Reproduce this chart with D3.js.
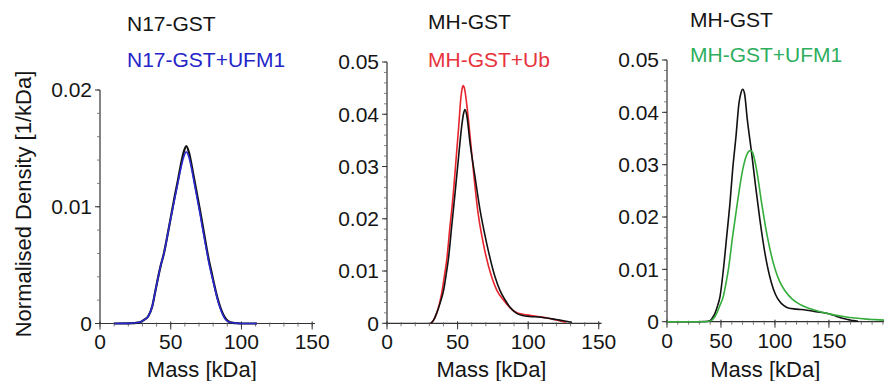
<!DOCTYPE html>
<html><head><meta charset="utf-8">
<script src="https://cdn.jsdelivr.net/npm/d3@7"></script>
<style>
html,body{margin:0;padding:0;background:#fff;}
svg text{font-family:"Liberation Sans",Arial,sans-serif;}
</style></head>
<body><svg id="c" width="884" height="381"></svg>
<script>
// ---------- data ----------
const n17Mass = [10,20,28,31,34,37,39,41,43,45,47,49,51,53,55,57,59,61,63,65,67,69,71,73,75,77,79,81,83,85,87,89,92,96,100,111];
const n17GST  = [0,0.00001,0.0001,0.0003,0.0006,0.0015,0.0027,0.0039,0.005,0.0059,0.0071,0.0084,0.0097,0.011,0.0122,0.0135,0.0146,0.0152,0.0146,0.0134,0.0121,0.0108,0.0095,0.0081,0.0067,0.0054,0.0043,0.0032,0.0022,0.0014,0.0008,0.0004,0.0001,0.00003,0,0];
const n17UFM1 = [0,0.00001,0.0001,0.0003,0.0006,0.0015,0.0027,0.0039,0.005,0.0059,0.0071,0.0084,0.0096,0.0108,0.012,0.0132,0.0142,0.0147,0.0142,0.0131,0.0118,0.0105,0.0092,0.0078,0.0065,0.0052,0.0041,0.0031,0.0021,0.0013,0.0007,0.0003,0.0001,0.00003,0,0];

const mhUbMassBlack = [31,33,35,38,40,42,43.5,45.8,48.2,50.5,52.9,54.2,55.2,56.5,58.8,62.3,65.9,70.6,76.5,80,83.6,87,91.8,96,101,107,113,118,122.5,127,131];
const mhGSTb        = [0,0.0006,0.0018,0.0042,0.0062,0.0095,0.0123,0.0185,0.0249,0.0313,0.0377,0.0401,0.0409,0.0398,0.0345,0.0281,0.0217,0.0153,0.0089,0.0063,0.0045,0.0031,0.0019,0.0015,0.0013,0.0012,0.001,0.0008,0.0006,0.0004,0.0002];
const mhUbMassRed   = [31,33,35,37,38.7,40.5,42.3,44.6,47,48.9,50.8,52.2,53.2,54,54.9,56.9,59.3,61.6,64.2,68.2,74.1,78,82.4,87,92,97,102,107,112,117,122,127];
const mhGSTUb       = [0,0.0006,0.0018,0.0036,0.0057,0.0088,0.0121,0.0185,0.0249,0.0313,0.0377,0.0428,0.0449,0.0455,0.0449,0.0409,0.0345,0.0281,0.0217,0.0153,0.0089,0.0062,0.0045,0.003,0.002,0.0017,0.0015,0.0013,0.0011,0.0008,0.0005,0.0002];

const mhUfmMassBlack = [0,20,36,39.8,42,44.4,46.8,49.1,52.2,55.3,58.3,60.8,63.9,66.7,68.5,70.1,71.8,74.4,78.4,82.1,86.1,90.7,96.9,100.5,104.6,108,112.3,120,129.4,138,147.9,156,163.3,168,172.5,177];
const mhGSTc         = [0,0,0.00005,0.0002,0.0007,0.0016,0.003,0.0048,0.0099,0.0163,0.0226,0.029,0.0354,0.0418,0.0437,0.0444,0.0436,0.0386,0.0322,0.0258,0.0194,0.0131,0.0073,0.0052,0.0038,0.0031,0.0026,0.0024,0.0022,0.0019,0.0016,0.0011,0.0006,0.0004,0.0002,0.0001];
const mhUfmMassGreen = [0,20,38,41,43.5,46,49,52.1,54.5,56.8,60.8,65.1,70.1,73,75.5,77.5,79.5,83,87.7,92.9,100,104.5,109.3,116,123.1,132,141.7,152,163.3,174,185,193,201];
const mhGSTUFM1      = [0,0,0.00005,0.0002,0.0007,0.0016,0.0031,0.0048,0.0072,0.0099,0.0163,0.0226,0.029,0.0314,0.0325,0.0327,0.0322,0.029,0.0226,0.0163,0.0101,0.0076,0.0059,0.0043,0.0033,0.0025,0.0019,0.0014,0.001,0.0007,0.0005,0.0004,0.0003];

const xTicksMajor = [0,50,100,150];
const yTicksP1 = [0,0.01,0.02];
const yTicksP23 = [0,0.01,0.02,0.03,0.04,0.05];
const yTickLabelsP1 = ["0","0.01","0.02"];
const yTickLabelsP23 = ["0","0.01","0.02","0.03","0.04","0.05"];

// ---------- drawing ----------
const svg = d3.select("#c");
const FS = 21;
const FS_T = 22;
const TXT = "#151515";

function panel(cfg){
  const x = d3.scaleLinear().domain(cfg.xDomain).range(cfg.xRange);
  const y = d3.scaleLinear().domain(cfg.yDomain).range(cfg.yRange);
  const g = svg.append("g");
  const axY = cfg.yRange[0];
  g.append("line").attr("x1", cfg.xRange[0]).attr("x2", cfg.xRange[1]).attr("y1", axY).attr("y2", axY)
    .attr("stroke", "#333").attr("stroke-width", 1.2);
  g.append("line").attr("x1", cfg.xRange[0]).attr("x2", cfg.xRange[0]).attr("y1", cfg.yRange[1]).attr("y2", axY)
    .attr("stroke", "#333").attr("stroke-width", 1.2);
  const xMinor = d3.range(0, cfg.xDomain[1] + 0.001, 10);
  g.selectAll(".xm").data(xMinor).join("line")
    .attr("x1", d => x(d)).attr("x2", d => x(d)).attr("y1", axY - 1).attr("y2", axY + 3)
    .attr("stroke", "#555").attr("stroke-width", 0.8);
  g.selectAll(".xM").data(xTicksMajor.filter(d => d <= cfg.xDomain[1])).join("line")
    .attr("x1", d => x(d)).attr("x2", d => x(d)).attr("y1", axY - 2).attr("y2", axY + 6)
    .attr("stroke", "#333").attr("stroke-width", 1);
  g.selectAll(".xl").data(xTicksMajor.filter(d => d <= cfg.xDomain[1])).join("text")
    .attr("x", d => x(d)).attr("y", cfg.xLabY).attr("text-anchor", "middle")
    .attr("font-size", FS).attr("fill", TXT).text(d => d);
  const yMinor = d3.range(0, cfg.yDomain[1] + 1e-9, 0.002);
  g.selectAll(".ym").data(yMinor).join("line")
    .attr("x1", cfg.xRange[0] - 3).attr("x2", cfg.xRange[0]).attr("y1", d => y(d)).attr("y2", d => y(d))
    .attr("stroke", "#666").attr("stroke-width", 0.8);
  g.selectAll(".yM").data(cfg.yTicks).join("line")
    .attr("x1", cfg.xRange[0] - 5).attr("x2", cfg.xRange[0]).attr("y1", d => y(d)).attr("y2", d => y(d))
    .attr("stroke", "#333").attr("stroke-width", 1);
  g.selectAll(".yl").data(cfg.yTicks).join("text")
    .attr("x", cfg.xRange[0] - 8).attr("y", d => y(d)).attr("dy", "0.35em").attr("text-anchor", "end")
    .attr("font-size", FS).attr("fill", TXT).text((d, i) => cfg.yLabels[i]);
  g.append("text").attr("x", x(cfg.xTitleAt)).attr("y", 377).attr("text-anchor", "middle")
    .attr("font-size", FS_T).attr("fill", TXT).text("Mass [kDa]");
  const line = d3.line().x(d => x(d[0])).y(d => y(d[1])).curve(d3.curveMonotoneX);
  cfg.series.forEach(s => {
    g.append("path").datum(d3.zip(s.x, s.y)).attr("d", line)
      .attr("fill", "none").attr("stroke", s.color).attr("stroke-width", s.w || 1.6)
      .attr("stroke-linejoin", "round");
  });
  cfg.titles.forEach(t => {
    g.append("text").attr("x", t.x).attr("y", t.y).attr("font-size", FS).attr("fill", t.color).text(t.text);
  });
}

panel({
  xDomain: [0, 152], xRange: [100, 315],
  yDomain: [0, 0.02], yRange: [323.5, 90],
  yTicks: yTicksP1, yLabels: yTickLabelsP1, xLabY: 349, xTitleAt: 72,
  series: [
    {x: n17Mass, y: n17GST, color: "#111", w: 2.2},
    {x: n17Mass, y: n17UFM1, color: "#2a2ad0", w: 1.6}
  ],
  titles: [
    {text: "N17-GST", x: 127, y: 30.5, color: TXT},
    {text: "N17-GST+UFM1", x: 127, y: 66.5, color: "#2424c8"}
  ]
});

panel({
  xDomain: [0, 152], xRange: [387, 601.6],
  yDomain: [0, 0.05], yRange: [323.3, 62],
  yTicks: yTicksP23, yLabels: yTickLabelsP23, xLabY: 349, xTitleAt: 74,
  series: [
    {x: mhUbMassRed, y: mhGSTUb, color: "#e8242c", w: 1.6},
    {x: mhUbMassBlack, y: mhGSTb, color: "#111", w: 1.6}
  ],
  titles: [
    {text: "MH-GST", x: 428, y: 28.5, color: TXT},
    {text: "MH-GST+Ub", x: 428, y: 67, color: "#e8323c"}
  ]
});

panel({
  xDomain: [0, 201], xRange: [667, 884],
  yDomain: [0, 0.05], yRange: [321.7, 60],
  yTicks: yTicksP23, yLabels: yTickLabelsP23, xLabY: 348, xTitleAt: 91,
  series: [
    {x: mhUfmMassBlack, y: mhGSTc, color: "#111", w: 1.6},
    {x: mhUfmMassGreen, y: mhGSTUFM1, color: "#35ad3c", w: 1.6}
  ],
  titles: [
    {text: "MH-GST", x: 690, y: 27, color: TXT},
    {text: "MH-GST+UFM1", x: 690, y: 62, color: "#2fae5e"}
  ]
});

svg.append("text").attr("transform", "translate(31,204) rotate(-90)").attr("text-anchor", "middle")
  .attr("font-size", FS_T).attr("fill", TXT).text("Normalised Density [1/kDa]");
</script>
</body></html>
